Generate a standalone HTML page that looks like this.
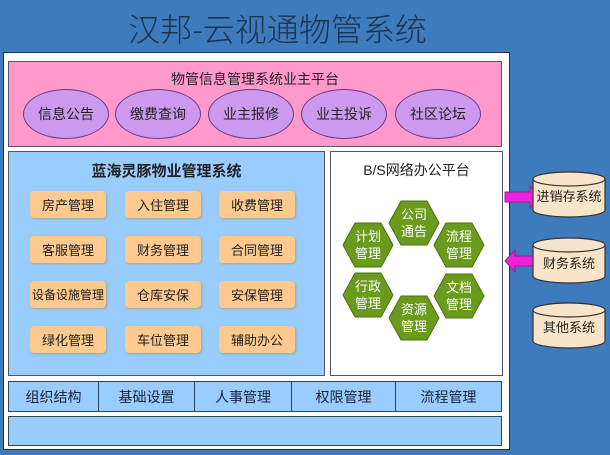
<!DOCTYPE html>
<html><head><meta charset="utf-8"><style>
body{margin:0;width:610px;height:455px;background:#3d7bbd;position:relative;overflow:hidden;font-family:"Liberation Sans","Noto Sans CJK SC",sans-serif}
.a{position:absolute;box-sizing:border-box}
.t{display:flex;align-items:center;justify-content:center;text-align:center}
.ov{background:#cc99ee;border:1.5px solid #6a3a8a;border-radius:50%;width:86px;height:50px;top:89px;font-size:14px;color:#222}
.ob{background:#fcc98e;border-radius:4px;width:76px;height:27px;font-size:13px;color:#222;box-shadow:1px 1px 2px #9a8}
.bc{top:381px;height:31px;border:1px solid #345;background:#99ccff;font-size:14px;color:#223}
</style></head><body>
<div class="a t" style="left:0;width:555px;top:6px;height:44px;font-size:32px;color:#1b3450;font-family:'Noto Sans CJK SC',sans-serif;font-weight:300">汉邦-云视通物管系统</div>
<div class="a" style="left:3px;top:52px;width:507px;height:398px;background:#fff;border:1px solid #234"></div>
<div class="a" style="left:8px;top:61px;width:494px;height:86px;background:#ff99cc;border:1px solid #556"></div>
<div class="a t" style="left:8px;top:68px;width:494px;height:22px;font-size:14px;color:#222">物管信息管理系统业主平台</div>
<div class="a t ov" style="left:23px">信息公告</div>
<div class="a t ov" style="left:115px">缴费查询</div>
<div class="a t ov" style="left:208px">业主报修</div>
<div class="a t ov" style="left:301px">业主投诉</div>
<div class="a t ov" style="left:395px">社区论坛</div>
<div class="a" style="left:8px;top:151px;width:317px;height:225px;background:#99ccff;border:1px solid #556"></div>
<div class="a t" style="left:8px;top:158px;width:317px;height:24px;font-size:15px;font-weight:bold;color:#222">蓝海灵豚物业管理系统</div>
<div class="a t ob" style="left:30px;top:191px">房产管理</div><div class="a t ob" style="left:125px;top:191px">入住管理</div><div class="a t ob" style="left:219px;top:191px">收费管理</div>
<div class="a t ob" style="left:30px;top:236px">客服管理</div><div class="a t ob" style="left:125px;top:236px">财务管理</div><div class="a t ob" style="left:219px;top:236px">合同管理</div>
<div class="a t ob" style="left:30px;top:281px;font-size:12px">设备设施管理</div><div class="a t ob" style="left:125px;top:281px">仓库安保</div><div class="a t ob" style="left:219px;top:281px">安保管理</div>
<div class="a t ob" style="left:30px;top:326px">绿化管理</div><div class="a t ob" style="left:125px;top:326px">车位管理</div><div class="a t ob" style="left:219px;top:326px">辅助办公</div>
<div class="a" style="left:330px;top:151px;width:173px;height:225px;background:#fff;border:1px solid #556"></div>
<div class="a t" style="left:330px;top:158px;width:173px;height:24px;font-size:14px;color:#222">B/S网络办公平台</div>
<svg class="a" style="left:0;top:0" width="610" height="455">
<g fill="#6b9b1c" stroke="#4a7010">
<polygon points="389,223 401,201 427,201 439,223 427,245 401,245"/>
<polygon points="343,245 355,223 381,223 393,245 381,267 355,267"/>
<polygon points="434,245 446,223 472,223 484,245 472,267 446,267"/>
<polygon points="343,295 355,273 381,273 393,295 381,317 355,317"/>
<polygon points="434,296 446,274 472,274 484,296 472,318 446,318"/>
<polygon points="389,318 401,296 427,296 439,318 427,340 401,340"/>
</g>
<g fill="#fff" font-size="13" text-anchor="middle" font-family="Liberation Sans,Noto Sans CJK SC,sans-serif">
<text x="414" y="219">公司</text><text x="414" y="236">通告</text>
<text x="368" y="241">计划</text><text x="368" y="258">管理</text>
<text x="459" y="241">流程</text><text x="459" y="258">管理</text>
<text x="368" y="291">行政</text><text x="368" y="308">管理</text>
<text x="459" y="292">文档</text><text x="459" y="309">管理</text>
<text x="414" y="314">资源</text><text x="414" y="331">管理</text>
</g>
<g fill="#ee22dd" stroke="#992288">
<polygon points="505,192 530,192 530,186 540,197 530,208 530,202 505,202"/>
<polygon points="540,256 515,256 515,250 505,261 515,272 515,266 540,266"/>
</g>
<g fill="#f8e4c8" stroke="#333" stroke-width="1.2">
<path d="M533,179 V210 A36,7 0 0 0 605,210 V179"/><ellipse cx="569" cy="179" rx="36" ry="7"/>
<path d="M533,245 V276 A36,7 0 0 0 605,276 V245"/><ellipse cx="569" cy="245" rx="36" ry="7"/>
<path d="M533,310 V341 A36,7 0 0 0 605,341 V310"/><ellipse cx="569" cy="310" rx="36" ry="7"/>
</g>
<g fill="#222" font-size="13" text-anchor="middle" font-family="Liberation Sans,Noto Sans CJK SC,sans-serif">
<text x="569" y="201">进销存系统</text><text x="569" y="268">财务系统</text><text x="569" y="332">其他系统</text>
</g>
</svg>
<div class="a t bc" style="left:8px;width:91px">组织结构</div>
<div class="a t bc" style="left:98px;width:97px">基础设置</div>
<div class="a t bc" style="left:194px;width:98px">人事管理</div>
<div class="a t bc" style="left:291px;width:105px">权限管理</div>
<div class="a t bc" style="left:395px;width:107px">流程管理</div>
<div class="a" style="left:8px;top:416px;width:494px;height:30px;background:#99ccff;border:1px solid #345"></div>
</body></html>
